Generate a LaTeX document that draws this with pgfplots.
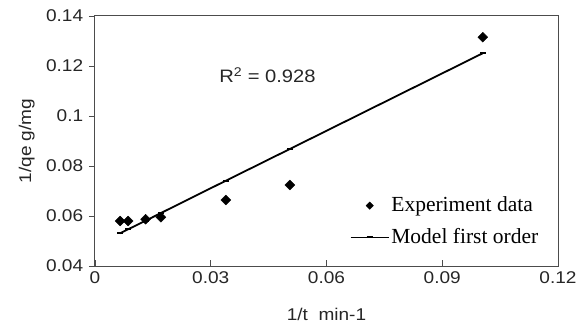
\documentclass[border=0pt]{standalone}
\usepackage{fontspec}
\setmainfont{Liberation Sans}[FakeStretch=1.12]
\newfontfamily\serifleg{Liberation Serif}
\usepackage{pgfplots}
\pgfplotsset{compat=1.18}
\begin{document}
\begin{tikzpicture}
\fontsize{17pt}{20pt}\selectfont
\useasboundingbox (-95pt,-63pt) rectangle (491pt,266pt);
\begin{axis}[
  at={(0pt,0pt)}, anchor=south west,
  scale only axis, width=463pt, height=250pt,
  xmin=0, xmax=0.12, ymin=0.04, ymax=0.14,
  xtick={0,0.03,0.06,0.09,0.12},
  xticklabels={0,0.03,0.06,0.09,0.12},
  ytick={0.04,0.06,0.08,0.1,0.12,0.14},
  yticklabels={0.04,0.06,0.08,0.1,0.12,0.14},
  xtick pos=bottom, ytick pos=left,
  xtick align=inside, ytick align=outside,
  major tick length=6pt,
  tick style={black!70, line width=0.8pt},
  axis line style={black!70, line width=1pt},
  /pgf/number format/assume math mode=true,
  ticklabel style={font=\fontsize{17pt}{20pt}\selectfont, text=black!85},
  label style={font=\fontsize{17pt}{20pt}\selectfont, text=black!85},
  xlabel={1/t\ \ min-1},
  xlabel style={yshift=-13pt},
  ylabel={1/qe g/mg},
  legend style={draw=none, fill=none, at={(0.544,0.293)}, anchor=north west,
    font=\serifleg\fontsize{21.5pt}{25pt}\selectfont, row sep=10pt,
    nodes={inner sep=2pt}},
  legend cell align=left,
]
\addplot[only marks, mark=square*, mark size=3.5pt, mark options={rotate=45, fill=black}, black,
  legend image code/.code={\draw[mark=square*, mark size=2.6pt, mark options={rotate=45,fill=black}] plot coordinates {(19pt,0pt)};}]
  coordinates {
  (0.0065,0.0580) (0.0086,0.0580) (0.0131,0.0587) (0.0171,0.0595)
  (0.0339,0.0664) (0.0505,0.0724) (0.1005,0.1315)
  };
\addlegendentry{Experiment data}
\addplot[black, line width=1.8pt, mark=-, mark size=3pt, mark options={line width=1.8pt},
  legend image code/.code={\draw[line width=1.3pt] (0pt,0pt) -- (38pt,0pt); \draw[line width=2.2pt] (16pt,0pt)--(22pt,0pt);}]
  coordinates {
  (0.0065,0.0531) (0.0086,0.0547) (0.0131,0.0581) (0.0171,0.0612)
  (0.0339,0.0741) (0.0505,0.0868) (0.1005,0.1251)
  };
\addlegendentry{Model first order}
\node[font=\fontsize{18pt}{20pt}\selectfont, text=black!85] at (axis cs:0.0447,0.1164) {R\textsuperscript{2} = 0.928};
\end{axis}
\end{tikzpicture}
\end{document}
